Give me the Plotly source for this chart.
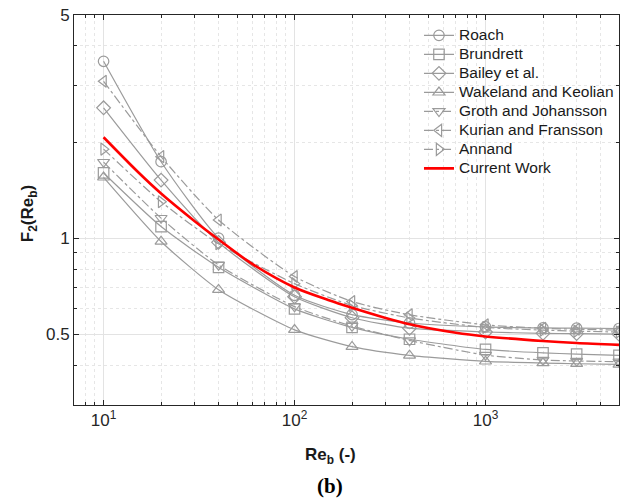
import plotly.graph_objects as go

re_pts = [10, 20, 40, 100, 200, 400, 1000, 2000, 3000, 5000]
roach = [3.58, 1.735, 1.00, 0.662, 0.576, 0.542, 0.527, 0.523, 0.522, 0.521]
brundrett = [1.60, 1.087, 0.81, 0.60, 0.525, 0.482, 0.448, 0.437, 0.433, 0.429]
bailey = [2.56, 1.52, 0.97, 0.655, 0.563, 0.522, 0.508, 0.503, 0.502, 0.50]
wakeland = [1.55, 0.976, 0.689, 0.516, 0.457, 0.429, 0.411, 0.406, 0.404, 0.402]
groth = [1.73, 1.155, 0.824, 0.61, 0.53, 0.478, 0.43, 0.415, 0.412, 0.41]
kurian = [3.10, 1.80, 1.14, 0.758, 0.633, 0.575, 0.535, 0.522, 0.518, 0.515]
annand = [1.90, 1.30, 0.96, 0.72, 0.615, 0.562, 0.525, 0.515, 0.511, 0.508]

re_cw = [10, 15, 20, 30, 40, 60, 100, 150, 200, 300, 400, 700, 1000, 2000, 3000, 5000]
current = [2.07, 1.62, 1.38, 1.13, 0.99, 0.83, 0.70, 0.64, 0.605, 0.562, 0.537, 0.505, 0.492, 0.476, 0.469, 0.463]

x_ticks = [10, 100, 1000]
x_ticktext = ["10<sup>1</sup>", "10<sup>2</sup>", "10<sup>3</sup>"]
y_ticks = [0.5, 1, 5]
y_ticktext = ["0.5", "1", "5"]
x_minor = [8, 9, 20, 30, 40, 50, 60, 70, 80, 90, 200, 300, 400, 500, 600, 700, 800, 900, 2000, 3000, 4000]
y_minor = [0.3, 0.4, 0.6, 0.7, 0.8, 0.9, 2, 3, 4]

GRAY = "#9b9b9b"
series = [
    ("Roach", roach, "circle-open", "solid"),
    ("Brundrett", brundrett, "square-open", "solid"),
    ("Bailey et al.", bailey, "diamond-open", "solid"),
    ("Wakeland and Keolian", wakeland, "triangle-up-open", "solid"),
    ("Groth and Johansson", groth, "triangle-down-open", "dashdot"),
    ("Kurian and Fransson", kurian, "triangle-left-open", "dashdot"),
    ("Annand", annand, "triangle-right-open", "dashdot"),
]

def legend_label(s):
    return '<span style="font-size:15.5px">' + s + '</span>'

fig = go.Figure()
for name, vals, sym, dash in series:
    fig.add_trace(go.Scatter(
        x=re_pts, y=vals, name=legend_label(name), mode="lines+markers",
        line=dict(color=GRAY, width=1.2, dash=dash, shape="spline", smoothing=0.6),
        marker=dict(symbol=sym, size=10.5, color=GRAY, line=dict(color=GRAY, width=1.2)),
    ))
fig.add_trace(go.Scatter(
    x=re_cw, y=current, name=legend_label("Current Work"), mode="lines",
    line=dict(color="#ff0000", width=2.6, shape="spline", smoothing=0.8),
))

axis_common = dict(
    type="log", showline=True, linecolor="#262626", linewidth=1, mirror="allticks",
    ticks="inside", ticklen=5, tickcolor="#262626",
    showgrid=True, gridcolor="#e3e3e3", gridwidth=1,
    tickfont=dict(family="Liberation Sans, Arial", size=17, color="#262626"),
    zeroline=False,
)

fig.update_xaxes(
    **axis_common, range=[0.8451, 3.699], tickvals=x_ticks, ticktext=x_ticktext,
    minor=dict(tickvals=x_minor, ticks="inside", ticklen=3, tickcolor="#262626",
               showgrid=True, gridcolor="#e6e6e6", griddash="dot", gridwidth=1),
)
fig.update_yaxes(
    **axis_common, range=[-0.5229, 0.699], tickvals=y_ticks, ticktext=y_ticktext,
    minor=dict(tickvals=y_minor, ticks="inside", ticklen=3, tickcolor="#262626",
               showgrid=True, gridcolor="#e6e6e6", griddash="dot", gridwidth=1),
)

fig.update_layout(
    width=624, height=502,
    margin=dict(l=74, r=5, t=15, b=97),
    paper_bgcolor="white", plot_bgcolor="white",
    showlegend=True,
    legend=dict(x=0.633, y=0.985, xanchor="left", yanchor="top",
                bgcolor="rgba(0,0,0,0)", borderwidth=0,
                font=dict(family="Liberation Sans, Arial", size=12, color="#1a1a1a"),
                tracegroupgap=0, itemwidth=30),
    annotations=[
        dict(text="<b>Re<sub>b</sub> (-)</b>", xref="paper", yref="paper",
             x=0.47, y=-0.13, xanchor="center", yanchor="middle", showarrow=False,
             font=dict(family="Liberation Sans, Arial", size=17, color="#1a1a1a")),
        dict(text="<b>F<sub>2</sub>(Re<sub>b</sub>)</b>", xref="paper", yref="paper",
             x=-0.082, y=0.49, xanchor="center", yanchor="middle", showarrow=False,
             textangle=-90,
             font=dict(family="Liberation Sans, Arial", size=17, color="#1a1a1a")),
        dict(text="<b>(b)</b>", xref="paper", yref="paper",
             x=0.47, y=-0.208, xanchor="center", yanchor="middle", showarrow=False,
             font=dict(family="Liberation Serif, Times New Roman", size=21, color="#000000")),
    ],
)

fig.write_html("out.html")
